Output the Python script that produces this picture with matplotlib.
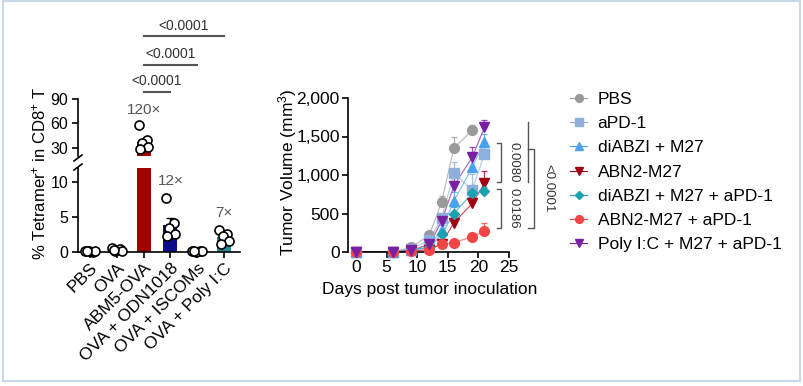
import matplotlib
matplotlib.use("Agg")
import matplotlib.pyplot as plt
from matplotlib.patches import Rectangle
from matplotlib.lines import Line2D
import numpy as np

plt.rcParams['font.family'] = ['Liberation Sans', 'DejaVu Sans']
plt.rcParams['mathtext.fontset'] = 'custom'
plt.rcParams['mathtext.rm'] = 'Liberation Sans'
plt.rcParams['mathtext.it'] = 'Liberation Sans:italic'

# ---------------- data: left panel ----------------
groups = ["PBS", "OVA", "ABM5-OVA", "OVA + ODN1018", "OVA + ISCOMs", "OVA + Poly I:C"]
bar_means = [0.1, 0.3, 37.0, 3.9, 0.1, 2.2]
bar_sem = [0.03, 0.1, 3.0, 1.0, 0.03, 0.35]
points = [
    [0.1, 0.05, 0.15, 0.1, 0.2],
    [0.6, 0.4, 0.2, 0.1, 0.3],
    [58, 40, 36, 31, 28],
    [7.7, 4.1, 3.4, 2.6, 2.3],
    [0.1, 0.2, 0.05, 0.1, 0.15],
    [3.1, 2.6, 2.3, 1.6, 1.1],
]
fold_labels = {2: "120×", 3: "12×", 5: "7×"}
sig_pairs = [(2, 3, "<0.0001"), (2, 4, "<0.0001"), (2, 5, "<0.0001")]

# ---------------- data: right panel ----------------
days = [0, 6, 9, 12, 14, 16, 19, 21]
series_names = ["PBS", "aPD-1", "diABZI + M27", "ABN2-M27",
                "diABZI + M27 + aPD-1", "ABN2-M27 + aPD-1", "Poly I:C + M27 + aPD-1"]
series_vals = [
    [0, 0, 60, 220, 650, 1350, 1580, None],
    [0, 0, 40, 150, 440, 1020, 810, 1270],
    [0, 0, 20, 70, 290, 660, 1100, 1430],
    [0, 0, 10, 30, 110, 380, 630, 890],
    [0, 0, 20, 60, 230, 500, 760, 790],
    [0, 0, 10, 30, 100, 120, 200, 270],
    [0, 0, 20, 100, 400, 860, 1230, 1620],
]
series_err = [
    [0, 0, 10, 40, 80, 150, 70, None],
    [0, 0, 10, 30, 70, 150, 200, 150],
    [0, 0, 5, 20, 60, 120, 150, 100],
    [0, 0, 5, 10, 30, 60, 80, 160],
    [0, 0, 5, 15, 40, 80, 100, 60],
    [0, 0, 5, 10, 20, 30, 40, 110],
    [0, 0, 5, 30, 80, 120, 130, 100],
]
right_sig = [(1416, 909, "0.0080"), (818, 312, "0.0186")]

# ---------------- styling ----------------
bar_colors = ["white", "white", "#a00000", "#0b0b8a", "white", "#1f8c9c"]
series_colors = ["#9a9a9a", "#8eaedb", "#4aa2ef", "#a00012", "#1aa0ae", "#f24646", "#7b1fa2"]
series_markers = ["o", "s", "^", "v", "D", "o", "v"]
series_msize = [7, 7, 7, 7, 5.5, 7, 7.5]
jitter = [-0.18, 0.12, -0.05, 0.18, -0.12]
grey = "#555555"
FS = 12.5

W, H = 804, 386
fig = plt.figure(figsize=(W / 100, H / 100), dpi=100)

def fx(px):
    return px / W

def fy(py):
    return 1 - py / H

# border
fig.patches.append(Rectangle((fx(3), fy(381)), fx(797), (381 - 1) / H,
                             transform=fig.transFigure, fill=False,
                             edgecolor="#c9d8ea", linewidth=1.5))

# ---------- left panel ----------
ax_lo = fig.add_axes([fx(78), fy(252), fx(162), 84 / H])
ax_hi = fig.add_axes([fx(78), fy(156), fx(162), 57 / H])
x = np.arange(len(groups))
for ax, (lo, hi) in ((ax_lo, (0, 12)), (ax_hi, (20, 90))):
    ax.bar(x, bar_means, width=0.52, color=bar_colors, zorder=2)
    ax.errorbar(x, bar_means, yerr=[np.zeros(len(x)), bar_sem], fmt="none",
                ecolor="black", elinewidth=1, capsize=3, capthick=1, zorder=3)
    for i, pts in enumerate(points):
        px = [x[i] + j for j, p in zip(jitter, pts) if lo <= p <= hi]
        py = [p for p in pts if lo <= p <= hi]
        ax.plot(px, py, "o", ms=6.5, mfc="white", mec="black",
                mew=1.2, zorder=5, clip_on=False)
    ax.set_xlim(-0.45, 5.6)
    ax.set_ylim(lo, hi)
    for s in ("top", "right"):
        ax.spines[s].set_visible(False)
    ax.spines["left"].set_linewidth(1.2)
    ax.tick_params(axis="y", labelsize=11.5, width=1.2, length=4, colors="black", pad=3)

ax_lo.set_yticks([0, 5, 10])
ax_lo.spines["bottom"].set_linewidth(1.2)
ax_lo.set_xticks(x)
ax_lo.set_xticklabels(groups, rotation=45, ha="right", rotation_mode="anchor", fontsize=FS)
ax_lo.tick_params(axis="x", width=1.2, length=4, pad=2)

ax_hi.set_yticks([30, 60, 90])
ax_hi.spines["bottom"].set_visible(False)
ax_hi.set_xticks([])

# break marks
for yy in (fy(158), fy(167)):
    fig.add_artist(Line2D([fx(74), fx(82)], [yy - 3 / H, yy + 3 / H],
                          color="black", lw=1.2, transform=fig.transFigure))

# fold labels
for i, t in fold_labels.items():
    if i == 2:
        ax_hi.text(x[i], 68, t, ha="center", va="bottom", fontsize=11, color=grey)
    else:
        top = max(points[i])
        ax_lo.text(x[i], top + 1.5, t, ha="center", va="bottom", fontsize=11, color=grey)

# significance lines
sig_y = [98.6, 131.6, 167]
for (a, b, t), yy in zip(sig_pairs, sig_y):
    ax_hi.plot([a, b], [yy, yy], color=grey, lw=1.5, clip_on=False)
    ax_hi.text((a + b) / 2, yy + 4.5, t, ha="center", va="bottom", fontsize=10, color="#333333")

fig.text(fx(39), fy(173), r"% Tetramer$^{+}$ in CD8$^{+}$ T", rotation=90,
         ha="center", va="center", fontsize=12)

# ---------- right panel ----------
ax_r = fig.add_axes([fx(348), fy(252), fx(164), 154 / H])
for name, vals, errs, c, m, ms in zip(series_names, series_vals, series_err,
                                      series_colors, series_markers, series_msize):
    d = [dd for dd, v in zip(days, vals) if v is not None]
    v = [vv for vv in vals if vv is not None]
    e = [ee for ee in errs if ee is not None]
    ax_r.errorbar(d, v, yerr=[np.zeros(len(e)), e], fmt="none", ecolor=c,
                  elinewidth=0.9, capsize=2.5, capthick=0.9, alpha=0.8, zorder=2)
    ax_r.plot(d, v, "-", color=c, lw=0.8, alpha=0.7, zorder=2)
    ax_r.plot(d, v, m, color=c, ms=ms, mec=c, label=name, zorder=3, clip_on=False)

ax_r.set_xlim(-1.3, 25.5)
ax_r.set_ylim(0, 2000)
ax_r.set_xticks([0, 5, 10, 15, 20, 25])
ax_r.set_yticks([0, 500, 1000, 1500, 2000])
ax_r.set_yticklabels(["0", "500", "1,000", "1,500", "2,000"])
for s in ("top", "right"):
    ax_r.spines[s].set_visible(False)
ax_r.spines["left"].set_linewidth(1.2)
ax_r.spines["bottom"].set_linewidth(1.2)
ax_r.spines["bottom"].set_bounds(0, 25)
ax_r.tick_params(labelsize=FS, width=1.2, length=4, pad=2)
ax_r.set_xlabel("Days post tumor inoculation", fontsize=12.5, labelpad=5)
fig.text(fx(288), fy(172), r"Tumor Volume (mm$^{3}$)", rotation=90,
         ha="center", va="center", fontsize=12.5)

# right brackets
for (y1, y2, t) in right_sig:
    ax_r.plot([23.1, 23.7, 23.7, 23.1], [y1, y1, y2, y2], color=grey, lw=1, clip_on=False)
    ax_r.text(25.8, (y1 + y2) / 2, t, rotation=-90, ha="center", va="center",
              fontsize=9.5, color="#333333")
ax_r.plot([28.1, 28.1], [1688, 909], color=grey, lw=1, clip_on=False)
ax_r.plot([28.1, 29.1, 29.1, 28.1], [1338, 1338, 312, 312], color=grey, lw=1, clip_on=False)
ax_r.text(31.4, 825, "<0.0001", rotation=-90, ha="center", va="center",
          fontsize=9.5, color="#333333")

# legend
handles = []
for name, c, m, ms in zip(series_names, series_colors, series_markers, series_msize):
    handles.append(Line2D([0], [0], color=c, lw=0.8, alpha=1, marker=m, ms=ms * 0.8,
                          mec=c, mfc=c, label=name))
fig.legend(handles=handles, loc="upper left", bbox_to_anchor=(fx(563), fy(85)),
           frameon=False, fontsize=FS, handlelength=1.0, handletextpad=0.6,
           labelspacing=0.52, borderaxespad=0)

fig.savefig("out.png", dpi=100)
